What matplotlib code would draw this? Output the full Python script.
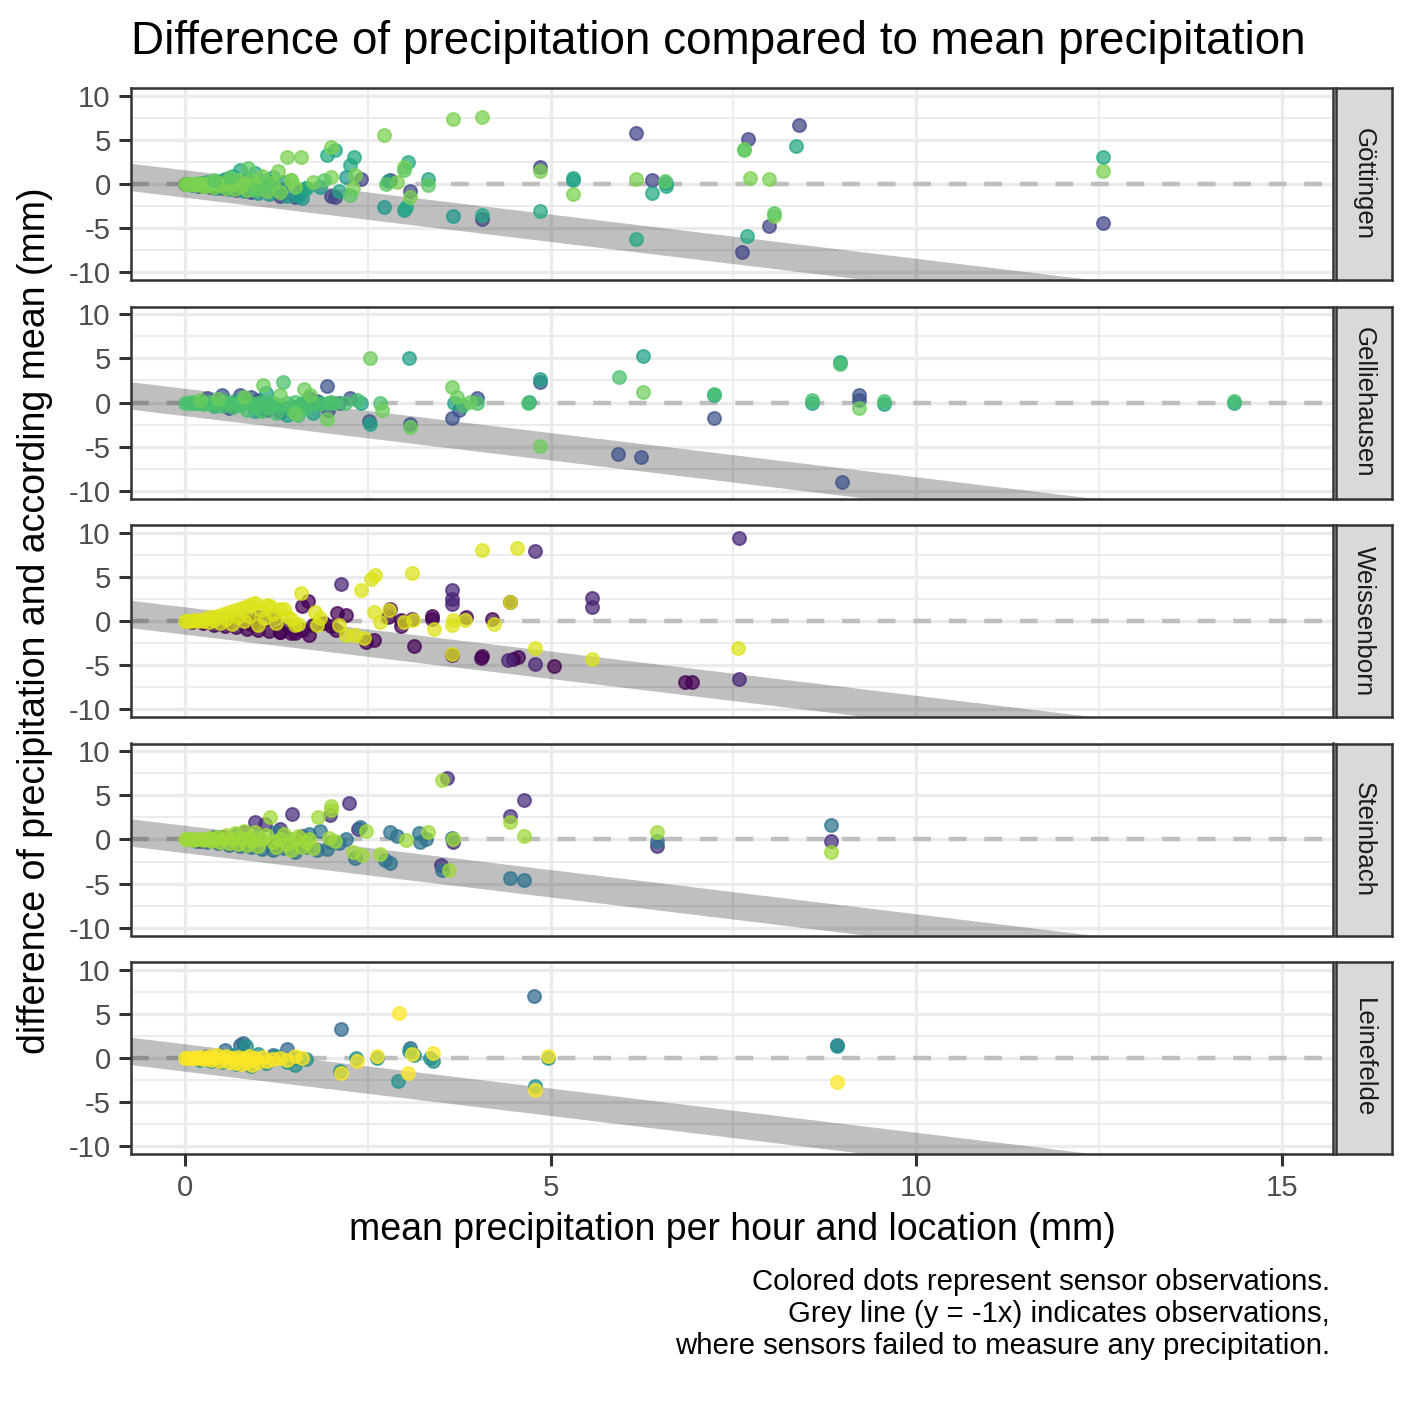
import matplotlib
matplotlib.use("Agg")
import matplotlib.pyplot as plt
import numpy as np

plt.rcParams['font.family'] = ['Liberation Sans', 'DejaVu Sans']
plt.rcParams['axes.unicode_minus'] = False

W = H = 1417
DPI = 200

locations = ["Göttingen", "Gelliehausen", "Weissenborn", "Steinbach", "Leinefelde"]

# sensor colours per location (viridis scale over all sensors)
goettingen_colors = ['#414487', '#1F988B', '#22A884', '#7AD151', '#5DC863']
gelliehausen_colors = ['#3B528B', '#1FA187', '#4AC16D', '#6CCD5A']
weissenborn_colors = ['#440154', '#482576', '#DCE319']
steinbach_colors = ['#472D7B', '#2C728E', '#A0DA39']
leinefelde_colors = ['#31688E', '#21908C', '#FDE725']

# (mean precipitation, difference to mean, sensor index)
goettingen = [
    (0.00, 0.00, 0), (0.02, 0.00, 1), (0.04, 0.00, 2), (0.06, -0.05, 0), (0.10, -0.10, 1),
    (0.14, 0.05, 2), (0.18, -0.18, 0), (0.22, 0.10, 1), (0.26, -0.26, 1), (0.30, 0.20, 2),
    (0.34, -0.30, 0), (0.38, 0.00, 1), (0.42, -0.42, 1), (0.46, 0.30, 2), (0.50, -0.50, 0),
    (0.55, 0.60, 1), (0.60, -0.60, 1), (0.65, 0.90, 2), (0.70, -0.70, 0), (0.75, 1.60, 2),
    (0.80, -0.80, 1), (0.85, 0.50, 1), (0.90, -0.90, 0), (0.95, 1.20, 2), (1.00, -1.00, 1),
    (1.05, -0.30, 0), (1.10, 0.40, 2), (1.15, -1.15, 1), (1.20, 0.80, 2), (1.25, -0.60, 1),
    (1.30, -1.30, 0), (1.35, 0.20, 1), (1.40, -1.40, 1), (1.50, -1.50, 0), (1.55, -1.20, 1),
    (1.60, -1.60, 1), (1.65, -0.50, 2), (1.57, -0.90, 0),
    (0.00, 0.00, 3), (0.03, 0.02, 3), (0.06, 0.00, 3), (0.09, -0.05, 3), (0.12, 0.05, 3),
    (0.15, -0.12, 3), (0.18, 0.00, 3), (0.21, 0.10, 3), (0.24, -0.20, 3), (0.27, 0.00, 3),
    (0.30, -0.25, 3), (0.33, 0.15, 3), (0.36, 0.00, 3), (0.40, -0.35, 3), (0.44, 0.20, 3),
    (0.48, -0.10, 3), (0.52, 0.00, 3), (0.56, -0.45, 3), (0.60, 0.30, 3), (0.64, 0.00, 3),
    (0.68, -0.55, 3), (0.72, 0.40, 3), (0.76, -0.20, 3), (0.80, 0.00, 3), (0.85, -0.65, 3),
    (0.90, 0.50, 3), (0.95, 0.00, 3), (1.00, -0.40, 3), (1.05, 0.90, 3), (1.12, -0.80, 3),
    (1.20, 0.10, 3), (1.27, 1.50, 3), (1.30, -0.90, 3), (1.39, 3.00, 3), (1.45, 0.40, 3),
    (1.50, -0.30, 3), (0.86, 1.80, 4), (0.62, 0.80, 4), (0.40, 0.40, 4), (1.10, -0.20, 4),
    (0.95, -0.70, 4),
    (3.67, 7.30, 3), (4.06, 7.60, 3), (2.72, 5.50, 3), (6.17, 5.80, 0), (8.40, 6.70, 0),
    (7.70, 5.10, 0), (7.65, 3.80, 4), (7.65, 4.00, 3), (8.35, 4.30, 2), (12.55, 3.05, 2),
    (12.55, 1.50, 3), (12.55, -4.40, 0), (7.69, -5.90, 2), (7.62, -7.70, 0), (7.98, -4.80, 0),
    (8.05, -3.30, 4), (8.05, -3.60, 3), (7.72, 0.70, 3), (7.98, 0.60, 3), (6.17, -6.20, 2),
    (6.17, 0.60, 3), (6.38, 0.50, 0), (6.39, -1.00, 2), (6.58, -0.20, 2), (6.57, 0.30, 4),
    (6.58, 0.10, 1), (5.31, 0.50, 1), (5.31, 0.70, 2), (5.31, -1.10, 3), (4.85, 1.90, 0),
    (4.85, 1.50, 3), (4.85, -3.10, 2), (4.06, -4.00, 0), (4.06, -3.50, 2), (3.66, -3.60, 1),
    (3.32, 0.60, 2), (3.32, -0.10, 4), (3.05, 2.50, 2), (3.00, 1.90, 3), (2.99, 1.60, 4),
    (3.00, -2.90, 1), (3.02, -2.60, 2), (2.72, -2.60, 1), (2.80, 0.50, 0), (2.78, 0.30, 1),
    (3.07, -0.80, 0), (3.07, -1.50, 3), (2.75, 0.00, 4), (2.90, 0.20, 3), (2.31, 3.00, 2),
    (2.25, 2.20, 2), (2.05, 3.80, 2), (2.00, 4.20, 3), (1.94, 3.30, 2), (1.58, 3.00, 3),
    (2.32, 1.00, 3), (2.00, -1.30, 0), (2.05, -1.50, 0), (2.10, -0.80, 2), (2.25, -1.20, 4),
    (2.30, -0.40, 3), (2.40, 0.60, 0), (2.20, 0.80, 1), (2.00, 0.80, 3), (1.55, -1.20, 1),
    (1.65, -0.50, 2), (1.45, 0.40, 3), (1.75, 0.20, 3), (1.85, -0.30, 1), (1.90, 0.50, 4),
]

gelliehausen = [
    (0.30, 0.50, 0), (0.50, 0.90, 0), (0.75, 0.80, 0), (0.90, 0.60, 0), (1.10, -0.90, 0),
    (1.30, -1.10, 0), (1.50, -0.50, 0), (0.60, -0.60, 0), (1.00, 0.30, 0), (1.70, 0.50, 0),
    (1.95, -0.90, 0), (1.80, 0.20, 0),
    (0.10, 0.00, 1), (0.40, -0.40, 1), (0.70, 0.20, 1), (0.95, -0.95, 1), (1.20, -0.40, 1),
    (1.40, -1.40, 1), (1.10, 1.10, 1), (1.60, -0.20, 1), (1.75, -1.20, 1), (1.85, 0.00, 1),
    (0.00, 0.00, 2), (0.05, 0.00, 2), (0.10, 0.05, 2), (0.15, -0.10, 2), (0.20, 0.00, 2),
    (0.25, -0.20, 2), (0.30, 0.00, 2), (0.35, 0.10, 2), (0.40, -0.30, 2), (0.45, 0.00, 2),
    (0.50, -0.45, 2), (0.55, 0.20, 2), (0.60, 0.00, 2), (0.65, -0.50, 2), (0.70, 0.00, 2),
    (0.75, -0.30, 2), (0.80, 0.30, 2), (0.85, -0.80, 2), (0.90, 0.00, 2), (0.95, -0.40, 2),
    (1.00, 0.00, 2), (1.05, -1.00, 2), (1.10, 0.20, 2), (1.15, -0.50, 2), (1.20, 0.00, 2),
    (1.25, -1.20, 2), (1.30, -0.30, 2), (1.34, 2.30, 2), (1.40, 0.00, 2), (1.45, -0.80, 2),
    (1.50, 0.10, 2), (1.55, -1.40, 2), (1.60, 0.00, 2), (1.65, -0.60, 2), (1.75, 0.00, 2),
    (1.85, -0.20, 2), (1.95, 0.00, 2), (2.05, 0.00, 2), (2.19, 0.00, 2), (2.35, 0.30, 2),
    (0.20, 0.30, 3), (0.45, 0.40, 3), (0.80, 0.60, 3), (1.07, 2.00, 3), (1.30, 0.80, 3),
    (1.63, 1.50, 3), (1.71, 0.90, 3), (1.94, -1.90, 3), (1.50, -1.20, 3),
    (2.53, 5.00, 3), (3.06, 5.00, 1), (6.26, 5.20, 1), (6.26, 1.20, 3), (5.93, 2.90, 2),
    (8.96, 4.60, 1), (8.96, 4.40, 2), (9.22, 0.80, 0), (9.22, 0.30, 0), (9.22, -0.60, 3),
    (9.56, 0.20, 2), (9.56, -0.20, 1), (8.57, 0.30, 2), (8.57, -0.10, 1), (14.34, 0.20, 2),
    (14.34, -0.10, 1), (4.85, 2.60, 1), (4.85, 2.30, 0), (4.85, -4.90, 3), (4.69, 0.00, 2),
    (4.70, 0.10, 1), (5.92, -5.80, 0), (6.24, -6.20, 0), (8.98, -9.00, 0), (7.24, 1.00, 2),
    (7.24, 0.80, 1), (7.24, -1.80, 0), (3.65, 1.80, 3), (3.65, -1.80, 0), (3.68, 0.00, 1),
    (3.72, 0.60, 3), (3.80, -0.30, 2), (3.75, -0.80, 0), (3.99, 0.50, 0), (3.99, 0.00, 2),
    (3.90, 0.10, 3), (2.53, -2.40, 1), (2.52, -2.10, 0), (3.07, -2.40, 0), (3.07, -2.80, 3),
    (2.69, -0.80, 3), (2.66, 0.00, 2), (2.25, 0.50, 0), (2.10, 0.00, 0), (2.40, 0.00, 1),
    (1.94, 1.90, 0), (2.00, 0.10, 2),
]

weissenborn = [
    (0.10, -0.10, 0), (0.25, -0.25, 0), (0.40, -0.40, 0), (0.55, -0.55, 0), (0.70, -0.70, 0),
    (0.85, -0.85, 0), (1.00, -1.00, 0), (1.15, -1.10, 0), (1.30, -1.20, 0), (1.45, -1.40, 0),
    (0.60, 0.20, 0), (0.80, 0.40, 0), (1.00, 0.50, 0), (1.20, 0.30, 0), (1.40, -0.60, 0),
    (0.90, -0.30, 0), (1.60, -1.00, 0), (1.75, -0.40, 0), (2.00, -0.60, 0), (2.20, 0.70, 0),
    (0.00, 0.00, 2), (0.04, 0.02, 2), (0.08, 0.00, 2), (0.12, 0.10, 2), (0.16, -0.05, 2),
    (0.20, 0.15, 2), (0.24, 0.00, 2), (0.28, 0.30, 2), (0.32, -0.15, 2), (0.36, 0.40, 2),
    (0.40, 0.10, 2), (0.44, 0.60, 2), (0.48, -0.20, 2), (0.52, 0.80, 2), (0.56, 0.20, 2),
    (0.60, 1.00, 2), (0.64, -0.30, 2), (0.68, 1.20, 2), (0.72, 0.40, 2), (0.76, 1.50, 2),
    (0.80, 0.00, 2), (0.84, 1.70, 2), (0.88, 0.60, 2), (0.92, 1.90, 2), (0.96, 2.00, 2),
    (1.00, -0.50, 2), (1.04, 1.20, 2), (1.08, 0.30, 2), (1.12, 1.80, 2), (1.16, 1.70, 2),
    (1.20, 0.80, 2), (1.25, -0.20, 2), (1.30, 1.40, 2), (1.40, 0.60, 2), (1.50, -0.40, 2),
    (1.78, 1.00, 2), (1.58, 3.20, 2), (1.85, 0.30, 2),
    (4.06, 8.00, 2), (4.54, 8.30, 2), (4.78, 7.90, 1), (7.57, 9.40, 1), (3.10, 5.40, 2),
    (2.60, 5.20, 2), (2.54, 4.70, 2), (2.40, 3.50, 2), (2.13, 4.20, 1), (3.65, 3.50, 1),
    (3.65, 2.50, 1), (3.65, 1.90, 1), (4.45, 2.10, 2), (4.45, 2.20, 0), (5.57, 2.60, 1),
    (5.57, 1.60, 1), (7.56, -3.00, 2), (7.57, -6.50, 1), (6.84, -6.90, 0), (6.93, -6.90, 0),
    (5.57, -4.30, 2), (5.05, -5.10, 0), (4.78, -4.90, 1), (4.78, -3.00, 2), (4.49, -4.30, 0),
    (4.55, -4.10, 0), (4.41, -4.40, 1), (4.06, -4.00, 0), (4.05, -4.20, 0), (3.65, -3.80, 0),
    (3.65, -3.70, 2), (3.13, -2.80, 0), (2.58, -2.20, 0), (2.47, -2.40, 0), (2.45, -1.90, 2),
    (2.32, -1.60, 2), (2.20, -1.60, 2), (2.06, -1.00, 0), (2.10, -0.50, 2), (2.66, -0.10, 2),
    (2.58, 1.00, 2), (2.77, 0.50, 0), (2.80, 1.40, 0), (2.79, 1.20, 2), (3.10, 0.20, 0),
    (3.12, 0.10, 2), (3.37, 0.60, 0), (3.37, 0.20, 0), (3.66, 0.10, 2), (3.83, 0.10, 2),
    (3.84, 0.50, 0), (3.65, -0.50, 2), (3.40, -0.90, 2), (3.00, -0.10, 2), (2.95, 0.10, 0),
    (2.95, -0.60, 0), (2.08, 0.90, 0), (1.68, 2.30, 0), (1.60, 1.70, 0), (4.22, -0.30, 2),
    (4.20, 0.20, 0), (1.90, -0.20, 0), (1.80, -0.50, 2), (1.70, -1.60, 0), (1.50, -1.40, 0),
    (1.45, 0.20, 2), (1.55, -0.30, 2), (1.30, -1.20, 0), (1.35, 1.40, 2),
]

steinbach = [
    (0.20, -0.20, 0), (0.50, 0.30, 0), (0.80, 0.80, 0), (0.96, 2.00, 0), (1.09, 1.70, 0),
    (1.20, -0.60, 0), (1.46, 2.90, 0), (1.60, 0.40, 0), (1.98, 2.80, 0), (2.24, 4.10, 0),
    (2.36, 1.20, 0), (1.30, 1.20, 0),
    (3.58, 7.00, 0), (4.64, 4.50, 0), (4.45, 2.60, 0), (3.50, -2.90, 0), (3.66, -0.30, 0),
    (6.45, -0.70, 0), (8.83, -0.20, 0),
    (0.05, 0.00, 1), (0.15, -0.15, 1), (0.30, -0.30, 1), (0.45, -0.45, 1), (0.60, -0.60, 1),
    (0.75, -0.75, 1), (0.90, -0.90, 1), (1.05, -1.05, 1), (1.20, -1.20, 1), (1.35, -1.00, 1),
    (1.50, -1.40, 1), (1.65, -0.80, 1), (1.80, -1.20, 1), (1.94, -1.10, 1), (0.40, 0.30, 1),
    (0.70, 0.50, 1), (1.00, 0.40, 1), (1.25, 0.80, 1), (1.40, 0.20, 1), (1.70, 0.60, 1),
    (1.85, 1.00, 1), (2.10, -0.40, 1), (2.33, -2.10, 1), (2.39, 1.40, 1), (2.73, -2.30, 1),
    (2.80, -2.60, 1), (2.80, 0.90, 1), (2.90, 0.40, 1), (3.20, 0.70, 1), (3.21, -0.30, 1),
    (3.30, 0.10, 1), (3.65, 0.20, 1), (3.51, -3.50, 1), (4.44, -4.40, 1), (4.64, -4.60, 1),
    (6.45, -0.20, 1), (8.83, 1.60, 1), (2.00, -0.30, 1), (2.20, 0.10, 1),
    (0.00, 0.00, 2), (0.04, 0.00, 2), (0.08, 0.05, 2), (0.12, -0.05, 2), (0.16, 0.00, 2),
    (0.20, 0.10, 2), (0.24, -0.10, 2), (0.28, 0.00, 2), (0.32, 0.20, 2), (0.36, -0.20, 2),
    (0.40, 0.00, 2), (0.44, 0.30, 2), (0.48, -0.30, 2), (0.52, 0.00, 2), (0.56, 0.50, 2),
    (0.60, -0.40, 2), (0.64, 0.10, 2), (0.68, 0.70, 2), (0.72, -0.50, 2), (0.76, 0.00, 2),
    (0.80, 1.00, 2), (0.84, -0.60, 2), (0.88, 0.20, 2), (0.92, -0.20, 2), (0.96, 0.90, 2),
    (1.00, -0.70, 2), (1.05, 0.00, 2), (1.10, 0.50, 2), (1.16, 2.50, 2), (1.20, -0.30, 2),
    (1.25, -0.90, 2), (1.30, 0.00, 2), (1.35, 0.60, 2), (1.40, -0.50, 2), (1.45, -1.20, 2),
    (1.50, 0.00, 2), (1.55, 0.40, 2), (1.60, -0.90, 2), (1.65, -0.30, 2), (1.70, 0.00, 2),
    (1.75, -1.00, 2), (1.82, 2.50, 2), (1.97, 0.20, 2), (2.00, 3.30, 2), (2.00, 3.80, 2),
    (2.05, -0.20, 2), (2.30, -1.40, 2), (2.42, -1.80, 2), (2.47, 1.00, 2), (2.66, -1.60, 2),
    (3.02, -0.10, 2), (3.32, 0.90, 2), (3.52, 6.70, 2), (3.61, -3.40, 2), (3.66, 0.00, 2),
    (4.45, 2.00, 2), (4.64, 0.45, 2), (6.45, 0.80, 2), (8.83, -1.40, 2),
]

leinefelde = [
    (0.55, 0.90, 0), (0.75, 1.50, 0), (0.79, 1.70, 0), (1.39, 1.00, 0), (0.30, 0.20, 0),
    (0.95, -0.50, 0), (1.20, 0.30, 0), (2.13, 3.30, 0), (4.77, 7.00, 0), (8.92, 1.50, 0),
    (3.07, 1.10, 0),
    (0.05, 0.00, 1), (0.20, -0.20, 1), (0.35, -0.30, 1), (0.50, -0.50, 1), (0.65, 0.30, 1),
    (0.83, 1.40, 1), (0.90, -0.90, 1), (1.00, 0.50, 1), (1.10, -0.60, 1), (1.25, 0.20, 1),
    (1.40, -0.40, 1), (1.55, 0.00, 1), (1.65, -0.10, 1), (2.12, -1.50, 1), (2.34, 0.00, 1),
    (2.62, 0.00, 1), (2.91, -2.60, 1), (3.06, 0.80, 1), (3.13, 0.30, 1), (3.35, 0.00, 1),
    (3.39, -0.30, 1), (4.78, -3.20, 1), (4.96, 0.00, 1), (8.92, 1.35, 1), (1.50, -0.80, 1),
    (0.70, -0.70, 1),
    (0.00, 0.00, 2), (0.04, 0.00, 2), (0.08, 0.05, 2), (0.12, -0.05, 2), (0.16, 0.00, 2),
    (0.20, 0.10, 2), (0.24, -0.15, 2), (0.28, 0.00, 2), (0.32, 0.20, 2), (0.36, -0.25, 2),
    (0.40, 0.00, 2), (0.44, 0.30, 2), (0.48, -0.35, 2), (0.52, 0.00, 2), (0.56, 0.20, 2),
    (0.60, -0.50, 2), (0.64, 0.00, 2), (0.68, -0.60, 2), (0.72, 0.10, 2), (0.76, -0.70, 2),
    (0.80, 0.00, 2), (0.84, -0.50, 2), (0.88, 0.20, 2), (0.92, -0.80, 2), (0.96, 0.00, 2),
    (1.00, -0.40, 2), (1.06, 0.10, 2), (1.12, -0.30, 2), (1.20, -0.10, 2), (1.30, 0.00, 2),
    (1.40, -0.20, 2), (1.50, 0.20, 2), (1.60, 0.00, 2), (2.13, -1.70, 2), (2.35, -0.30, 2),
    (2.62, 0.20, 2), (2.92, 5.10, 2), (3.05, -1.70, 2), (3.11, 0.40, 2), (3.39, 0.60, 2),
    (4.78, -3.60, 2), (4.97, 0.20, 2), (8.92, -2.70, 2),
]

panel_data = [goettingen, gelliehausen, weissenborn, steinbach, leinefelde]
panel_colors = [goettingen_colors, gelliehausen_colors, weissenborn_colors,
                steinbach_colors, leinefelde_colors]

x_ticks = [0, 5, 10, 15]
x_minor = [2.5, 7.5, 12.5]
y_ticks = [-10, -5, 0, 5, 10]
y_minor = [-7.5, -2.5, 2.5, 7.5]

title = "Difference of precipitation compared to mean precipitation"
xlabel = "mean precipitation per hour and location (mm)"
ylabel = "difference of precipitation and according mean (mm)"
caption = ("Colored dots represent sensor observations.\n"
           "Grey line (y = -1x) indicates observations,\n"
           "where sensors failed to measure any precipitation.")

fig = plt.figure(figsize=(W / DPI, H / DPI), dpi=DPI)

left, right = 131, 1333
panel_h = 192
xlim = (-0.74, 15.70)
ylim = (-10.85, 10.85)
for i, (loc, pts, cols) in enumerate(zip(locations, panel_data, panel_colors)):
    top = 88 + i * 218.5
    bottom = 1 - (top + panel_h) / H
    ax = fig.add_axes([left / W, bottom, (right - left) / W, panel_h / H])
    ax.set_xticks(x_ticks)
    ax.set_xticks(x_minor, minor=True)
    ax.set_yticks(y_ticks)
    ax.set_yticks(y_minor, minor=True)
    ax.grid(which='major', color='#EBEBEB', lw=1.2)
    ax.grid(which='minor', color='#EBEBEB', lw=0.65)
    ax.set_axisbelow(True)
    ax.tick_params(which='major', length=4.3, width=1.1, color='#333333',
                   labelsize=10.6, labelcolor='#4D4D4D', pad=3)
    ax.tick_params(which='minor', length=0)
    if i < len(locations) - 1:
        ax.tick_params(axis='x', bottom=False, labelbottom=False)
    for sp in ax.spines.values():
        sp.set_color('#333333')
        sp.set_linewidth(0.9)
        sp.set_zorder(5)

    ax.axhline(0, color='#BEBEBE', lw=1.6, ls=(0, (4, 4)), zorder=1.5)
    # y = -1x reference line, drawn long and clipped by the panel
    ax.plot([-20, 30], [20, -30], color='black', alpha=0.25, lw=9.8,
            solid_capstyle='butt', zorder=2)

    arr = np.array(pts)
    for s in range(len(cols)):
        m = arr[:, 2] == s
        if m.any():
            ax.scatter(arr[m, 0], arr[m, 1], s=22, color=cols[s], alpha=0.72,
                       edgecolors=cols[s], linewidths=0.7, zorder=3)
    ax.set_xlim(*xlim)
    ax.set_ylim(*ylim)

    sax = fig.add_axes([1336 / W, bottom, 56 / W, panel_h / H])
    sax.set_facecolor('#D9D9D9')
    sax.set_xticks([])
    sax.set_yticks([])
    for sp in sax.spines.values():
        sp.set_color('#333333')
        sp.set_linewidth(0.9)
    sax.text(0.5, 0.5, loc, rotation=-90, ha='center', va='center',
             fontsize=9.3, color='#1A1A1A', transform=sax.transAxes)

fig.text(131 / W, 1 - 42 / H, title, ha='left', va='center', fontsize=16.5)
fig.text(732 / W, 1 - 1230 / H, xlabel, ha='center', va='center', fontsize=13.5)
fig.text(35 / W, 1 - 621 / H, ylabel, rotation=90, ha='center', va='center', fontsize=13.5)
fig.text(1330 / W, 1 - 1314 / H, caption, ha='right', va='center',
         multialignment='right', fontsize=10.6, linespacing=1.2)

fig.savefig('out.png', dpi=DPI)
